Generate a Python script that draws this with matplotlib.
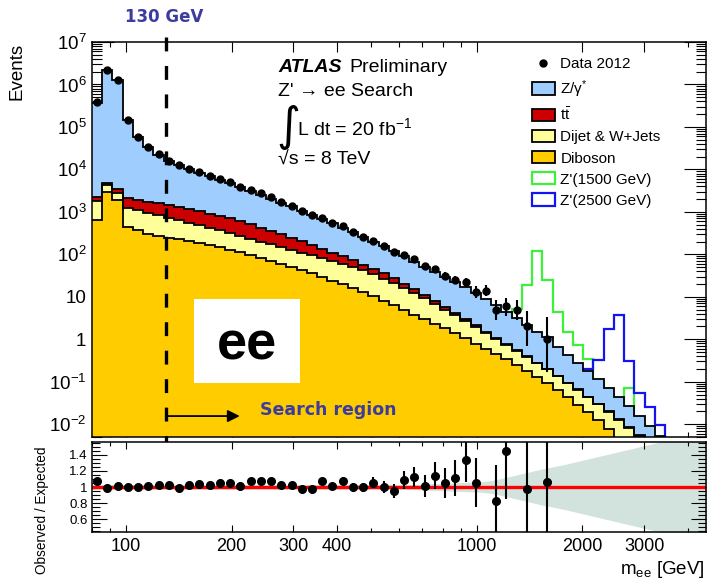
import numpy as np
import matplotlib
matplotlib.use("Agg")
import matplotlib.pyplot as plt
from matplotlib.patches import Patch, Rectangle
from matplotlib.lines import Line2D
from matplotlib.ticker import FixedLocator, FixedFormatter, NullFormatter
import matplotlib.transforms as mtransforms

plt.rcParams['font.family'] = ['Liberation Sans', 'DejaVu Sans']
plt.rcParams['mathtext.fontset'] = 'custom'
plt.rcParams['mathtext.rm'] = 'Liberation Sans'
plt.rcParams['mathtext.it'] = 'Liberation Sans:italic'
plt.rcParams['mathtext.bf'] = 'Liberation Sans:bold'
plt.rcParams['lines.scale_dashes'] = False

# ---------------- binning ----------------
mass_min, mass_max, n_bins = 80.0, 4500.0, 60
cut_mass = 130.0

# ---------------- stacked background levels (events / bin) ----------------
# top of Z/gamma* (= total background)
bkg_total = [363000, 2240000, 1260000, 145000, 58900, 33900, 22400, 15800, 12600, 10200,
             8320, 6920, 5620, 4680, 3800, 3090, 2510, 2040, 1660, 1350,
             1070, 851, 676, 537, 427, 331, 257, 200, 155, 117,
             89.1, 67.6, 51.3, 38.9, 29.5, 22.4, 16.6, 12.0, 8.91, 6.31,
             4.47, 3.16, 2.19, 1.51, 1.12, 0.661, 0.417, 0.275, 0.182, 0.115,
             0.0724, 0.0437, 0.0263, 0.0158, 0.00912, 0.00525, 0.00302, 0.00166, 0.00089, 0.0005]
# top of ttbar (diboson + dijet + ttbar)
stack_ttbar = [2290, 4900, 3550, 2090, 1910, 1740, 1580, 1450, 1320, 1170,
               1050, 912, 813, 708, 603, 513, 427, 355, 295, 245,
               204, 166, 135, 110, 89.1, 72.4, 57.5, 44.7, 35.5, 27.5,
               20.4, 15.1, 11.2, 8.13, 5.75, 4.17, 3.02, 2.14, 1.51, 1.07,
               0.759, 0.550, 0.398, 0.282, 0.200, 0.138, 0.0955, 0.0661, 0.0447, 0.0302,
               0.0200, 0.0132, 0.00851, 0.00550, 0.00347, 0.00219, 0.00135, 0.00083, 0.0005, 0.0003]
# top of dijet & W+jets (diboson + dijet)
stack_dijet = [1820, 4270, 2820, 1260, 1100, 955, 832, 724, 646, 562,
               490, 427, 372, 316, 269, 234, 200, 174, 148, 129,
               110, 95.5, 81.3, 69.2, 58.9, 50.1, 41.7, 33.9, 26.9, 21.4,
               16.2, 12.3, 9.33, 6.92, 5.01, 3.72, 2.69, 1.91, 1.38, 1.00,
               0.724, 0.525, 0.380, 0.275, 0.195, 0.135, 0.0933, 0.0646, 0.0437, 0.0295,
               0.0195, 0.0129, 0.00832, 0.00537, 0.00339, 0.00214, 0.00132, 0.00081, 0.00049, 0.0003]
# diboson
stack_diboson = [646, 2950, 1910, 447, 372, 309, 269, 245, 224, 204,
                 186, 166, 148, 129, 112, 97.7, 83.2, 70.8, 60.3, 51.3,
                 42.7, 35.5, 29.5, 24.0, 19.5, 15.8, 12.9, 10.2, 8.13, 6.31,
                 4.90, 3.80, 2.95, 2.34, 1.82, 1.38, 1.05, 0.794, 0.603, 0.457,
                 0.339, 0.251, 0.182, 0.132, 0.0933, 0.0646, 0.0437, 0.0288, 0.0191, 0.0123,
                 0.00776, 0.00479, 0.00288, 0.0017, 0.001, 0.00056, 0.00032, 0.00018, 0.0001, 0.000056]

# ---------------- signal templates ----------------
zprime_1500 = [0.01] * 30 + [0.02, 0.03, 0.05, 0.07, 0.1, 0.15, 0.22, 0.35, 0.6, 1.0,
                             1.8, 5.25, 19.1, 120, 25.1, 4.47, 1.45, 0.74, 0.34, 0.1,
                             0.05, 0.03, 0.071, 0.01, 0.005, 0.003, 0.002, 0.001, 0.0007, 0.0005]
zprime_2500 = [0.01] * 41 + [0.015, 0.02, 0.03, 0.04, 0.06, 0.09, 0.13, 0.195, 0.324,
                             1.78, 3.72, 0.316, 0.0537, 0.0251, 0.0098, 0.004, 0.002, 0.001, 0.0005]

# ---------------- data ----------------
data_2012 = [392000, 2220000, 1270000, 145000, 58900, 34200, 22900, 16100, 12500, 10400,
             8650, 7130, 5900, 4940, 3850, 3310, 2710, 2190, 1690, 1380,
             1038, 826, 723, 542, 457, 329, 256, 211, 155, 111,
             97, 76, 52, 44, 31, 25, 22, 13, 14, 5,
             6, 5, 2, 0, 1, 0, 0, 0, 0, 0,
             0, 0, 0, 0, 0, 0, 0, 0, 0, 0]
data_err_lo = [626, 1490, 1127, 381, 243, 185, 151, 127, 112, 102,
               93, 84, 77, 70, 62, 58, 52, 47, 41, 37,
               32, 29, 27, 23, 21, 18, 16, 14.5, 12.5, 10.5,
               9.3, 8.2, 7.2, 6.6, 5.5, 5.0, 4.7, 3.6, 3.7, 2.16,
               2.38, 2.16, 1.29, 0, 0.83, 0, 0, 0, 0, 0,
               0, 0, 0, 0, 0, 0, 0, 0, 0, 0]
data_err_hi = [626, 1490, 1127, 381, 243, 185, 151, 127, 112, 102,
               93, 84, 77, 70, 62, 58, 52, 47, 41, 37,
               32, 29, 27, 23, 21, 18, 16, 14.5, 12.5, 10.5,
               10.4, 9.2, 8.2, 7.7, 6.6, 6.0, 5.7, 4.7, 4.8, 3.38,
               3.58, 3.38, 2.64, 0, 2.30, 0, 0, 0, 0, 0,
               0, 0, 0, 0, 0, 0, 0, 0, 0, 0]

# ---------------- ratio panel ----------------
nan = float('nan')
ratio_obs_exp = [1.08, 0.99, 1.01, 1.00, 1.00, 1.01, 1.02, 1.02, 0.99, 1.02,
                 1.04, 1.03, 1.05, 1.055, 1.013, 1.07, 1.08, 1.075, 1.02, 1.02,
                 0.97, 0.97, 1.07, 1.01, 1.07, 0.995, 0.995, 1.055, 1.00, 0.95,
                 1.09, 1.125, 1.01, 1.14, 1.05, 1.11, 1.33, 1.055, nan, 0.83,
                 1.45, nan, 0.98, nan, 1.06, nan, nan, nan, nan, nan,
                 nan, nan, nan, nan, nan, nan, nan, nan, nan, nan]
ratio_err = [0.005] * 10 + [0.012] * 5 + [0.02] * 5 + [0.03, 0.035,
             0.04, 0.045, 0.05, 0.055, 0.06, 0.07, 0.08, 0.09,
             0.11, 0.13, 0.14, 0.17, 0.19, 0.22, 0.27, 0.31, 0, 0.45,
             0.6, 0, 1.0, 0, 1.2] + [0] * 15
# systematic band half-width, given at the bin edges
syst_band = [0.03] * 32 + [0.035, 0.04, 0.045, 0.05, 0.055, 0.06, 0.065, 0.08, 0.105,
             0.135, 0.165, 0.195, 0.225, 0.25, 0.275, 0.305, 0.335, 0.365, 0.395,
             0.425, 0.455, 0.485, 0.515, 0.545, 0.575, 0.605, 0.635, 0.665, 0.695]

# ---------------- colours ----------------
c_dy, c_tt, c_jet, c_vv = '#9fcdfd', '#cc0000', '#ffff99', '#ffcc00'
c_z1500, c_z2500 = '#3cf03c', '#1414f0'
c_note = '#3c3c9e'

edges = np.geomspace(mass_min, mass_max, n_bins + 1)
centers = np.sqrt(edges[:-1] * edges[1:])

W, H = 708, 583
fig = plt.figure(figsize=(W / 100, H / 100), dpi=100)
ax = fig.add_axes([92 / W, 1 - 437 / H, 614 / W, 395 / H])
rax = fig.add_axes([92 / W, 1 - 532 / H, 614 / W, 90 / H])

# signal shapes sit underneath the background fills
ax.stairs(zprime_1500, edges, baseline=None, color=c_z1500, lw=1.6, zorder=1)
ax.stairs(zprime_2500, edges, baseline=None, color=c_z2500, lw=1.6, zorder=1)

layers = [(bkg_total, c_dy), (stack_ttbar, c_tt), (stack_dijet, c_jet), (stack_diboson, c_vv)]
for vals, col in layers:
    ax.stairs(vals, edges, baseline=1e-6, fill=True, color=col, lw=0, zorder=2)
for vals, col in layers:
    ax.stairs(vals, edges, baseline=None, color='black', lw=1.3, zorder=3)

d = np.array(data_2012, dtype=float)
m = d > 0
ax.errorbar(centers[m], d[m], yerr=[np.array(data_err_lo)[m], np.array(data_err_hi)[m]],
            fmt='o', color='black', ms=5, elinewidth=1.5, capsize=0, zorder=5)

ax.set_xscale('log')
ax.set_yscale('log')
ax.set_xlim(mass_min, mass_max)
ax.set_ylim(0.005, 1e7)

# ---------------- ratio ----------------
rax.fill_between(edges, 1 - np.array(syst_band), 1 + np.array(syst_band),
                 color='#d2e3de', lw=0, zorder=1)
rax.axhline(1.0, color='#ff0000', lw=2.4, zorder=2)
r = np.array(ratio_obs_exp)
rm = ~np.isnan(r)
rax.errorbar(centers[rm], r[rm], yerr=np.array(ratio_err)[rm], fmt='o', color='black',
             ms=5.5, elinewidth=1.5, capsize=0, zorder=4)
rax.set_xscale('log')
rax.set_xlim(mass_min, mass_max)
rax.set_ylim(0.44, 1.56)

# ---------------- ticks ----------------
x_major = [100, 200, 300, 400, 1000, 2000, 3000]
x_minor = [80, 90, 500, 600, 700, 800, 900, 4000]
for a in (ax, rax):
    a.xaxis.set_major_locator(FixedLocator(x_major))
    a.xaxis.set_minor_locator(FixedLocator(x_minor))
    a.xaxis.set_minor_formatter(NullFormatter())
    a.tick_params(which='both', direction='in', top=True, right=True, width=0.8)
    for s in a.spines.values():
        s.set_linewidth(1.1)
ax.xaxis.set_major_formatter(NullFormatter())
rax.xaxis.set_major_formatter(FixedFormatter([str(v) for v in x_major]))

y_major = [1e-2, 1e-1, 1, 10, 1e2, 1e3, 1e4, 1e5, 1e6, 1e7]
y_labels = [r'$10^{-2}$', r'$10^{-1}$', '1', '10', r'$10^{2}$', r'$10^{3}$',
            r'$10^{4}$', r'$10^{5}$', r'$10^{6}$', r'$10^{7}$']
ax.yaxis.set_major_locator(FixedLocator(y_major))
ax.yaxis.set_major_formatter(FixedFormatter(y_labels))
ax.yaxis.set_minor_locator(FixedLocator([k * 10.0 ** e for e in range(-3, 7) for k in range(2, 10)]))
ax.yaxis.set_minor_formatter(NullFormatter())
ax.tick_params(axis='y', which='major', length=15.5, labelsize=13.5, pad=4)
ax.tick_params(axis='y', which='minor', length=7.2)
ax.tick_params(axis='x', which='major', length=7.2)
ax.tick_params(axis='x', which='minor', length=3.6)

rax.yaxis.set_major_locator(FixedLocator([0.6, 0.8, 1.0, 1.2, 1.4]))
rax.yaxis.set_major_formatter(FixedFormatter(['0.6', '0.8', '1', '1.2', '1.4']))
rax.yaxis.set_minor_locator(FixedLocator([0.45, 0.5, 0.55, 0.65, 0.7, 0.75, 0.85, 0.9, 0.95,
                                          1.05, 1.1, 1.15, 1.25, 1.3, 1.35, 1.45, 1.5, 1.55]))
rax.tick_params(axis='y', which='major', length=10.5, labelsize=9.5, pad=3)
rax.tick_params(axis='y', which='minor', length=5.5)
rax.tick_params(axis='x', which='major', length=5, labelsize=13, pad=4)
rax.tick_params(axis='x', which='minor', length=3)

# ---------------- 130 GeV cut and search region ----------------
blend = mtransforms.blended_transform_factory(ax.transData, ax.transAxes)
ax.plot([cut_mass, cut_mass], [1.013, -0.023], transform=blend, color='black', lw=2.4,
        dashes=(10, 10.5), clip_on=False, zorder=8, solid_capstyle='butt', dash_capstyle='butt')
ax.annotate('', xy=(211, 0.053), xytext=(cut_mass, 0.053),
            xycoords=('data', 'axes fraction'), textcoords=('data', 'axes fraction'),
            arrowprops=dict(arrowstyle='-|>', color='black', lw=1.3, mutation_scale=18,
                            shrinkA=0, shrinkB=0), zorder=8)
ax.text(0.2736, 0.068, 'Search region', transform=ax.transAxes, ha='left', va='center',
        fontsize=12.5, fontweight='bold', color=c_note, family='DejaVu Sans', zorder=8)
ax.add_patch(Rectangle((0.1661, 0.1367), 0.1726, 0.2127, transform=ax.transAxes,
                       facecolor='white', edgecolor='none', zorder=7))
ax.text(0.2524, 0.2329, 'ee', transform=ax.transAxes, ha='center', va='center',
        fontsize=39, fontweight='bold', color='black', zorder=8)
fig.text(164 / W, 1 - 17 / H, '130 GeV', ha='center', va='center', fontsize=12,
         fontweight='bold', color=c_note, family='DejaVu Sans')

# ---------------- ATLAS labels ----------------
fig.text(278 / W, 1 - 67 / H, 'ATLAS', fontsize=14, fontweight='bold', fontstyle='italic',
         ha='left', va='center')
fig.text(349 / W, 1 - 67 / H, 'Preliminary', fontsize=14, ha='left', va='center')
fig.text(278 / W, 1 - 92 / H, "Z' \u2192 ee Search", fontsize=14, ha='left', va='center')
fig.text(276 / W, 1 - 127 / H, '\u222b', fontsize=33, ha='left', va='center', family='DejaVu Sans')
fig.text(297 / W, 1 - 128 / H, r'L dt = 20 fb$^{-1}$', fontsize=14, ha='left', va='center')
fig.text(278 / W, 1 - 160 / H, '\u221as = 8 TeV', fontsize=14, ha='left', va='center')

# ---------------- legend ----------------
handles = [Line2D([], [], ls='none', marker='o', color='black', ms=5),
           Patch(facecolor=c_dy, edgecolor='black', lw=1.3),
           Patch(facecolor=c_tt, edgecolor='black', lw=1.3),
           Patch(facecolor=c_jet, edgecolor='black', lw=1.3),
           Patch(facecolor=c_vv, edgecolor='black', lw=1.3),
           Patch(facecolor='white', edgecolor=c_z1500, lw=1.6),
           Patch(facecolor='white', edgecolor=c_z2500, lw=1.6)]
labels = ['Data 2012', r'Z/$\mathrm{\gamma}^{*}$', r't$\bar{\mathrm{t}}$', 'Dijet & W+Jets',
          'Diboson', "Z'(1500 GeV)", "Z'(2500 GeV)"]
ax.legend(handles, labels, loc='upper left', bbox_to_anchor=(532 / W, 1 - 57 / H),
          bbox_transform=fig.transFigure, frameon=False, fontsize=11, handlelength=1.5,
          handleheight=0.85, handletextpad=0.35, labelspacing=0.44, borderpad=0,
          borderaxespad=0)

# ---------------- axis titles ----------------
fig.text(17 / W, 1 - 43 / H, 'Events', rotation=90, ha='center', va='top', fontsize=13.5)
fig.text(42 / W, 1 - 446 / H, 'Observed / Expected', rotation=90, ha='center', va='top',
         fontsize=9.8)
fig.text(705 / W, 1 - 570 / H, r'm$_{\mathrm{ee}}$ [GeV]', ha='right', va='center', fontsize=13.5)

fig.savefig('out.png', dpi=100)
